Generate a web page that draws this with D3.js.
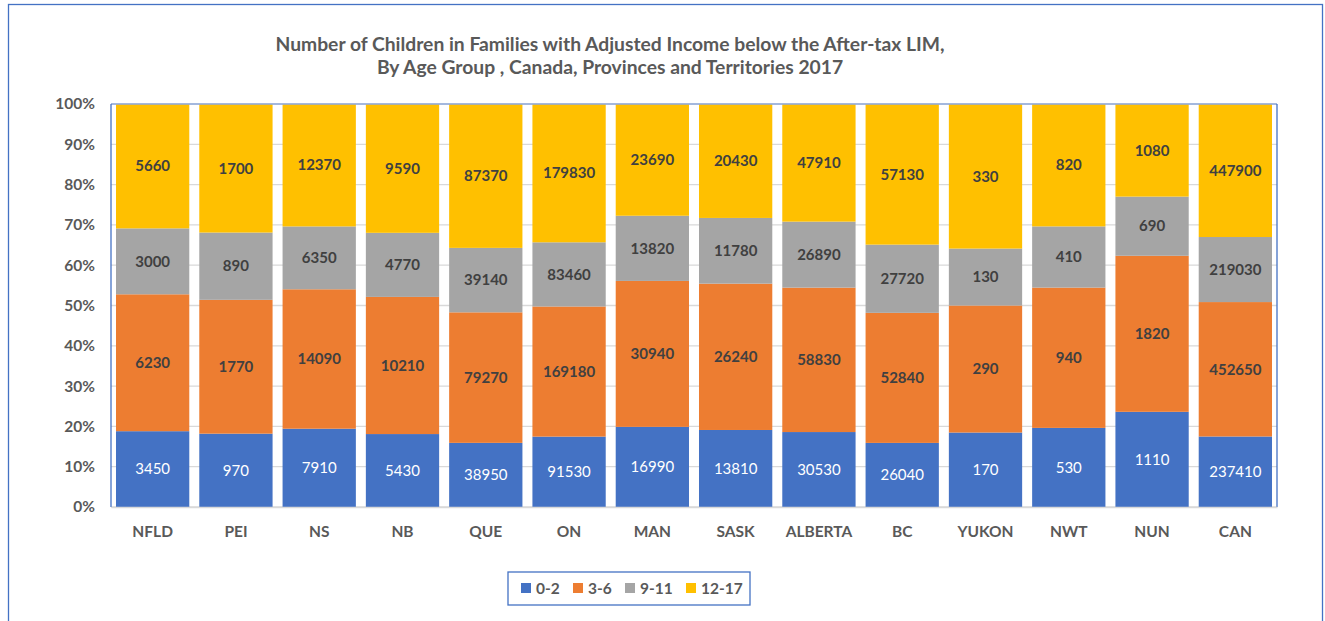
<!DOCTYPE html>
<html>
<head>
<meta charset="utf-8">
<script src="https://cdn.jsdelivr.net/npm/d3@7"></script>
<style>
  body { margin: 0; background: #fff; }
  svg { font-family: Lato, 'Liberation Sans', sans-serif; }
</style>
</head>
<body>
<svg id="chart"></svg>
<script>
const regions = ['NFLD', 'PEI', 'NS', 'NB', 'QUE', 'ON', 'MAN', 'SASK', 'ALBERTA', 'BC', 'YUKON', 'NWT', 'NUN', 'CAN'];
const ageGroups = ['0-2', '3-6', '9-11', '12-17'];
const age0to2 = [3450, 970, 7910, 5430, 38950, 91530, 16990, 13810, 30530, 26040, 170, 530, 1110, 237410];
const age3to6 = [6230, 1770, 14090, 10210, 79270, 169180, 30940, 26240, 58830, 52840, 290, 940, 1820, 452650];
const age9to11 = [3000, 890, 6350, 4770, 39140, 83460, 13820, 11780, 26890, 27720, 130, 410, 690, 219030];
const age12to17 = [5660, 1700, 12370, 9590, 87370, 179830, 23690, 20430, 47910, 57130, 330, 820, 1080, 447900];
const yTicks = [0, 0.1, 0.2, 0.3, 0.4, 0.5, 0.6, 0.7, 0.8, 0.9, 1];

const colors = ['#4472C4', '#ED7D31', '#A5A5A5', '#FFC000'];
const labelColors = ['#ffffff', '#404040', '#404040', '#404040'];

const series = [age0to2, age3to6, age9to11, age12to17];
const rows = regions.map((r, i) => {
  const row = { region: r };
  ageGroups.forEach((g, k) => { row[g] = series[k][i]; });
  return row;
});

const width = 1325, height = 621;
const margin = { top: 104, right: 48, bottom: 114, left: 111 };
const innerW = width - margin.left - margin.right;
const innerH = height - margin.top - margin.bottom;

const svg = d3.select('#chart')
  .attr('width', width)
  .attr('height', height);

// outer frame
svg.append('rect')
  .attr('x', 8.5).attr('y', 4.5)
  .attr('width', 1314).attr('height', 630)
  .attr('fill', 'none')
  .attr('stroke', '#4472C4')
  .attr('stroke-width', 1.3);

// title
svg.append('text')
  .attr('x', 610).attr('y', 51)
  .attr('text-anchor', 'middle')
  .attr('font-size', 19.3).attr('font-weight', 'bold')
  .attr('fill', '#595959')
  .selectAll('tspan')
  .data(['Number of Children in Families with Adjusted Income below the After-tax LIM,',
    'By Age Group , Canada, Provinces and Territories 2017'])
  .enter()
  .append('tspan')
  .attr('x', 610)
  .attr('dy', (d, i) => i === 0 ? 0 : 23)
  .text(d => d);

const g = svg.append('g')
  .attr('transform', `translate(${margin.left},${margin.top})`);

const x = d3.scaleBand()
  .domain(regions)
  .range([0, innerW])
  .paddingInner(0.12)
  .paddingOuter(0.06);

const y = d3.scaleLinear()
  .domain([0, 1])
  .range([innerH, 0]);

// gridlines
g.append('g')
  .selectAll('line')
  .data(yTicks)
  .enter()
  .append('line')
  .attr('x1', 0).attr('x2', innerW)
  .attr('y1', d => y(d)).attr('y2', d => y(d))
  .attr('stroke', '#d9d9d9')
  .attr('stroke-width', 1.3);

const stack = d3.stack()
  .keys(ageGroups)
  .offset(d3.stackOffsetExpand);
const layers = stack(rows);

const layer = g.selectAll('.layer')
  .data(layers)
  .enter()
  .append('g')
  .attr('class', 'layer')
  .attr('fill', (d, i) => colors[i]);

layer.selectAll('rect')
  .data(d => d)
  .enter()
  .append('rect')
  .attr('x', d => x(d.data.region))
  .attr('y', d => y(d[1]))
  .attr('width', x.bandwidth())
  .attr('height', d => y(d[0]) - y(d[1]));

layer.selectAll('text')
  .data((d, i) => d.map(p => ({ p, key: d.key, idx: i })))
  .enter()
  .append('text')
  .attr('x', d => x(d.p.data.region) + x.bandwidth() / 2)
  .attr('y', d => (y(d.p[0]) + y(d.p[1])) / 2)
  .attr('dy', '0.35em')
  .attr('text-anchor', 'middle')
  .attr('font-size', 15)
  .attr('font-weight', d => d.idx === 0 ? 'normal' : 'bold')
  .attr('fill', d => labelColors[d.idx])
  .text(d => d.p.data[d.key]);

// plot area border
g.append('line')
  .attr('x1', 0).attr('x2', innerW).attr('y1', 0).attr('y2', 0)
  .attr('stroke', '#8faadc').attr('stroke-width', 1.3);
g.append('line')
  .attr('x1', 0).attr('x2', 0).attr('y1', 0).attr('y2', innerH)
  .attr('stroke', '#4472C4').attr('stroke-width', 1.3);
g.append('line')
  .attr('x1', innerW).attr('x2', innerW).attr('y1', 0).attr('y2', innerH)
  .attr('stroke', '#4472C4').attr('stroke-width', 1.3);

// y axis
const yAxis = g.append('g')
  .call(d3.axisLeft(y).tickValues(yTicks).tickFormat(d3.format('.0%')).tickSize(0).tickPadding(16));
yAxis.select('.domain').remove();
yAxis.selectAll('text')
  .attr('font-size', 15.5).attr('font-weight', 'bold')
  .attr('fill', '#595959')
  .attr('font-family', 'Lato, sans-serif');

// x axis
const xAxis = g.append('g')
  .attr('transform', `translate(0,${innerH})`)
  .call(d3.axisBottom(x).tickSize(0).tickPadding(19));
xAxis.select('.domain')
  .attr('stroke', '#d9d9d9').attr('stroke-width', 1.5);
xAxis.selectAll('text')
  .attr('font-size', 15.5).attr('font-weight', 'bold')
  .attr('fill', '#595959')
  .attr('font-family', 'Lato, sans-serif');

// legend
const legend = svg.append('g')
  .attr('transform', 'translate(508,572)');
legend.append('rect')
  .attr('width', 242).attr('height', 33)
  .attr('fill', '#fff')
  .attr('stroke', '#4472C4').attr('stroke-width', 1.3);

const legendX = [13, 65, 117, 178];
const item = legend.selectAll('.item')
  .data(ageGroups)
  .enter()
  .append('g')
  .attr('class', 'item')
  .attr('transform', (d, i) => `translate(${legendX[i]},0)`);
item.append('rect')
  .attr('y', 11).attr('width', 10).attr('height', 10)
  .attr('fill', (d, i) => colors[i]);
item.append('text')
  .attr('x', 15).attr('y', 16.5)
  .attr('dy', '0.35em')
  .attr('font-size', 15.5).attr('font-weight', 'bold')
  .attr('fill', '#595959')
  .text(d => d);
</script>
</body>
</html>
